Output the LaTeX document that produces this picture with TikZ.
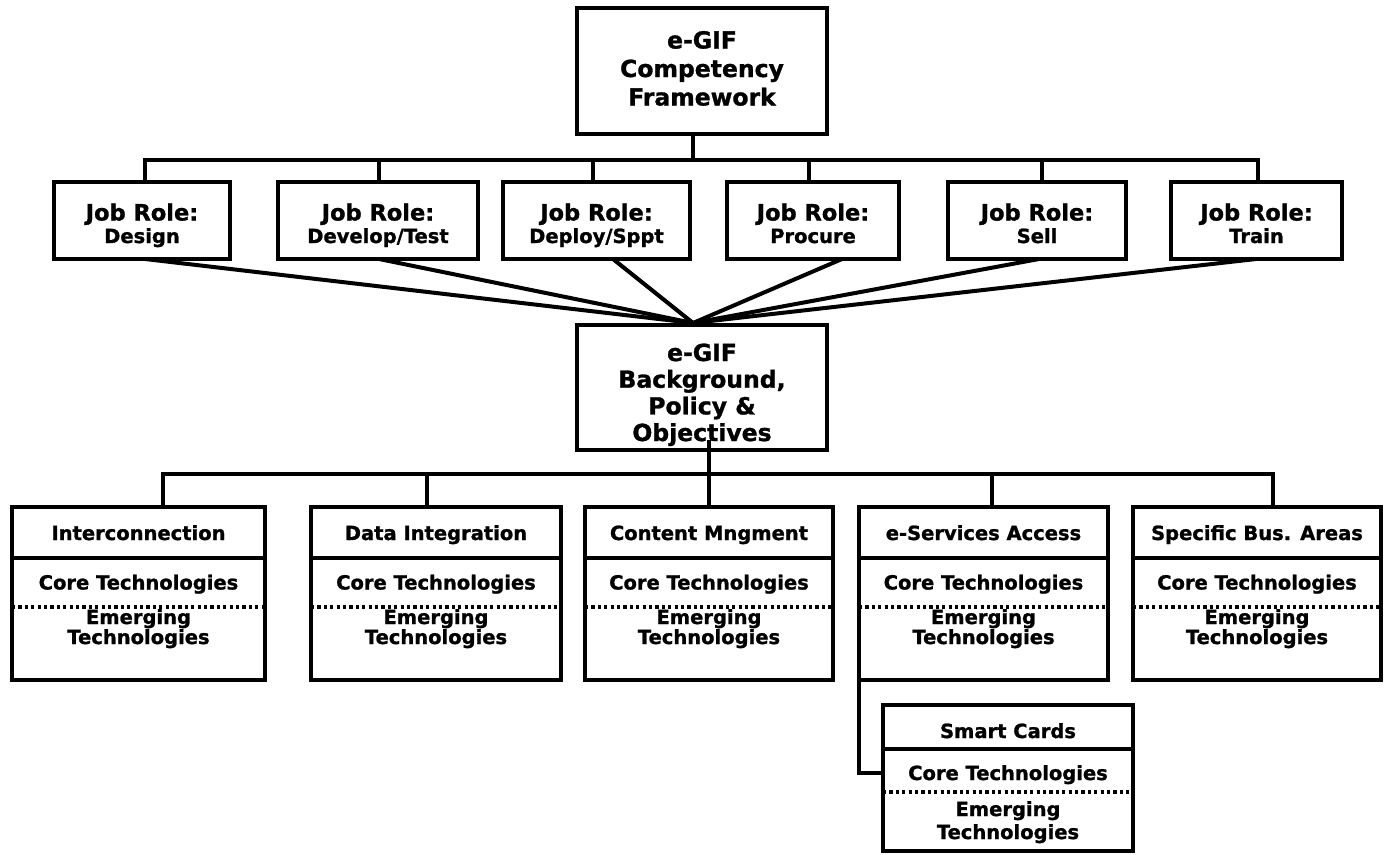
\documentclass[tikz,border=0pt]{standalone}
\usepackage{fontspec}
\setmainfont{DejaVu Sans}[BoldFeatures={FakeBold=1.2}]
\newcommand\bigf{\fontsize{23.5}{28}\selectfont\bfseries}
\newcommand\jobf{\fontsize{22.5}{24}\selectfont\bfseries}
\newcommand\midf{\fontsize{19.5}{20}\selectfont\bfseries}
\newcommand\techbox[4]{%
  \node[box, minimum width=#3, minimum height=173pt] (#1) at (#2,593.5) {};
  \draw[conn] ([yshift=-51pt]#1.north west) -- ([yshift=-51pt]#1.north east);
  \draw[dots] ([yshift=-100pt]#1.north west) -- ([yshift=-100pt]#1.north east);
  \node[midt] (#1t) at ([yshift=-33pt]#1.north) {#4};
  \node[midt] (#1c) at ([yshift=-82.5pt]#1.north) {Core Technologies};
  \node[midt] (#1e) at ([yshift=-117pt]#1.north) {Emerging};
  \node[midt] (#1f) at ([yshift=-137pt]#1.north) {Technologies};
}
\begin{document}
\begin{tikzpicture}[x=1pt,y=-1pt,
  box/.style={draw, line width=4pt, rectangle, inner sep=0pt, outer sep=0pt},
  conn/.style={line width=4pt},
  dots/.style={line width=3.8pt, dash pattern=on 3.2pt off 3.2pt},
  bigt/.style={font=\bigf, anchor=base, inner sep=0pt},
  jobt/.style={font=\jobf, anchor=base, inner sep=0pt},
  midt/.style={font=\midf, anchor=base, inner sep=0pt}]
\useasboundingbox (0,0) rectangle (1384,854);

% top box
\node[box, minimum width=250pt, minimum height=126pt] (top) at (702,71) {};
\node[bigt] (top1) at (702,48.5) {e-GIF};
\node[bigt] (top2) at (702,77) {Competency};
\node[bigt] (top3) at (702,105.5) {Framework};

% job role boxes
\foreach \n/\c/\w/\t in {j1/142/176/Design, j2/378/200/{Develop/Test}, j3/596.5/187/{Deploy/Sppt},
                         j4/813/172/Procure, j5/1037/178/Sell, j6/1256.5/171/Train}{
  \node[box, minimum width=\w pt, minimum height=77pt] (\n) at (\c,220.5) {};
  \node[jobt] (\n a) at (\c,220.5) {Job Role:};
  \node[midt] (\n b) at (\c,243) {\t};
}

% background box
\node[box, minimum width=250pt, minimum height=125pt] (bg) at (702,387.5) {};
\node[bigt] (bg1) at (702,361) {e-GIF};
\node[bigt] (bg2) at (702,387.7) {Background,};
\node[bigt] (bg3) at (702,414.4) {Policy \&};
\node[bigt] (bg4) at (702,441) {Objectives};

% technology boxes
\techbox{ic}{138.5}{253pt}{Interconnection}
\techbox{di}{436}{250pt}{Data Integration}
\techbox{cm}{709}{248pt}{Content Mngment}
\techbox{es}{983.5}{249pt}{e-Services Access}
\techbox{sb}{1257}{248pt}{Specific Bus. Areas}

% smart cards box
\node[box, minimum width=250pt, minimum height=146pt] (sc) at (1008,778) {};
\draw[conn] ([yshift=-44pt]sc.north west) -- ([yshift=-44pt]sc.north east);
\draw[dots] ([yshift=-87pt]sc.north west) -- ([yshift=-87pt]sc.north east);
\node[midt] (sct) at ([yshift=-33pt]sc.north) {Smart Cards};
\node[midt] (scc) at ([yshift=-75pt]sc.north) {Core Technologies};
\node[midt] (sce) at ([yshift=-111pt]sc.north) {Emerging};
\node[midt] (scf) at ([yshift=-134pt]sc.north) {Technologies};

% upper bus
\coordinate (ubus) at (0,160);
\coordinate (tc) at ([xshift=-9pt]top.south);
\coordinate (u1) at ([xshift=3pt]j1.north);
\coordinate (u2) at ([xshift=1pt]j2.north);
\coordinate (u3) at ([xshift=-3.5pt]j3.north);
\coordinate (u4) at ([xshift=-4pt]j4.north);
\coordinate (u5) at ([xshift=5pt]j5.north);
\coordinate (u6) at ([xshift=1.5pt]j6.north);
\draw[conn] (u1) -- (u1 |- ubus) -- (u6 |- ubus) -- (u6);
\foreach \p in {u2,u3,u4,u5,tc} \draw[conn] (\p) -- (\p |- ubus);

% converging lines
\coordinate (conv) at ([xshift=-9pt,yshift=2pt]bg.north);
\coordinate (d1) at ([xshift=3pt]j1.south);
\coordinate (d2) at ([xshift=1pt]j2.south);
\coordinate (d3) at ([xshift=16.5pt]j3.south);
\coordinate (d4) at ([xshift=29pt]j4.south);
\coordinate (d5) at ([xshift=2pt]j5.south);
\coordinate (d6) at ([xshift=-0.5pt]j6.south);
\foreach \p in {d1,d2,d3,d4,d5,d6} \draw[conn] (\p) -- (conv);

% lower bus
\coordinate (lbus) at (0,474);
\coordinate (bc) at ([xshift=7pt,yshift=10pt]bg.south);
\coordinate (l1) at ([xshift=24.5pt]ic.north);
\coordinate (l2) at ([xshift=-9pt]di.north);
\coordinate (l3) at (cm.north);
\coordinate (l4) at ([xshift=8.5pt]es.north);
\coordinate (l5) at ([xshift=16pt]sb.north);
\draw[conn] (l1) -- (l1 |- lbus) -- (l5 |- lbus) -- (l5);
\foreach \p in {l2,l3,l4,bc} \draw[conn] (\p) -- (\p |- lbus);

% smart cards connector
\coordinate (scj) at ([yshift=5pt]sc.west);
\draw[conn] (es.south west) -- (es.south west |- scj) -- (scj);
\end{tikzpicture}
\end{document}
